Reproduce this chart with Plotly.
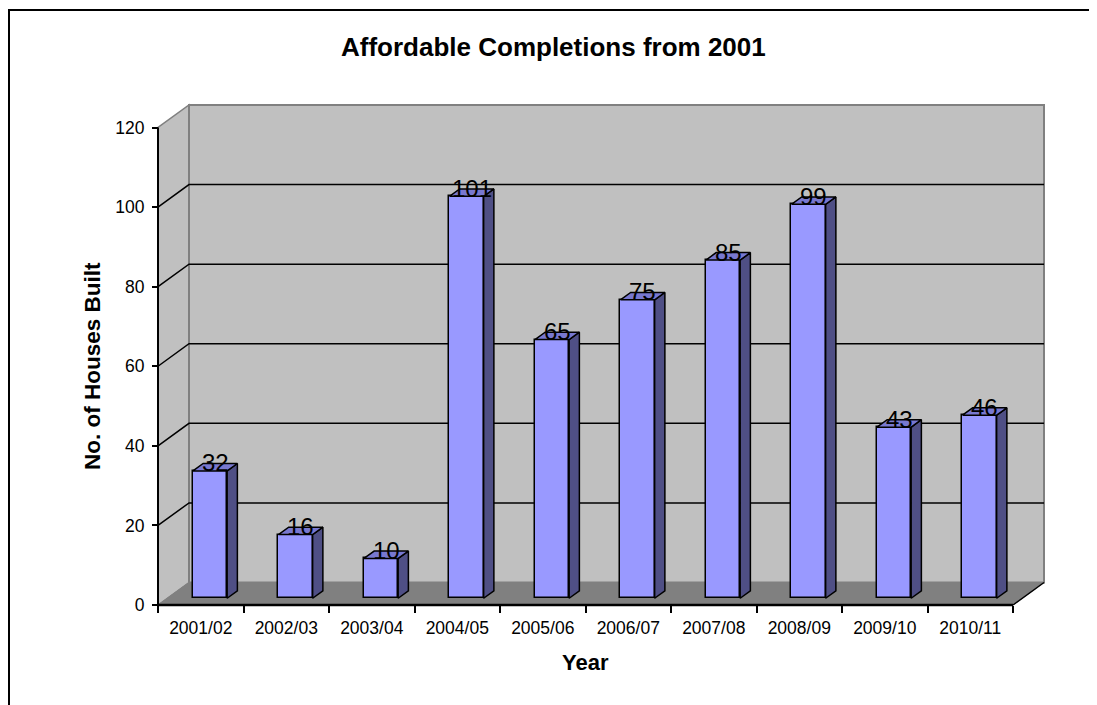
import plotly.graph_objects as go

# ---------------- data ----------------
years = ["2001/02", "2002/03", "2003/04", "2004/05", "2005/06",
         "2006/07", "2007/08", "2008/09", "2009/10", "2010/11"]
houses = [32, 16, 10, 101, 65, 75, 85, 99, 43, 46]
y_ticks = [0, 20, 40, 60, 80, 100, 120]
chart_title = "Affordable Completions from 2001"
x_title = "Year"
y_title = "No. of Houses Built"

# ---------------- styling / geometry (screen pixels) ----------------
VIEW_W, VIEW_H = 1097, 705
OFF = 8                                   # default page margin around the figure
W, H = VIEW_W, VIEW_H
PLOT_L, PLOT_R, PLOT_T, PLOT_B = 150, 1048, 101, 613   # plot area box (screen px)
X0_PX, Y0_PX = 158, 605                                # front axes origin (screen px)
PX_PER_CAT = 85.5
PX_PER_VAL = 477.5 / 120.0
DX = 31.0 / PX_PER_CAT       # depth offset in category units
DY = 22.5 / PX_PER_VAL       # depth offset in value units
F0, F1 = 0.30, 0.63          # bar depth (front / back fractions)
BW = 0.40                    # bar width (category units)
YMAX = y_ticks[-1]
n = len(years)
xmin, xmax = -0.5, n - 0.5

xr = [xmin - (X0_PX - PLOT_L) / PX_PER_CAT, xmin + (PLOT_R - X0_PX) / PX_PER_CAT]
yr = [-(PLOT_B - Y0_PX) / PX_PER_VAL, (Y0_PX - PLOT_T) / PX_PER_VAL]
pw, ph = PLOT_R - PLOT_L, PLOT_B - PLOT_T
posx = (X0_PX - PLOT_L) / pw
posy = (PLOT_B - Y0_PX) / ph


def px2paper_x(px):
    return (px - PLOT_L) / pw


def px2paper_y(py):
    return (PLOT_B - py) / ph


FONT = "Arial, 'Liberation Sans', sans-serif"
FRONT = "#9999FF"
SIDE = "#4F4F85"
TOP = "#7878D0"
WALL = "#C0C0C0"
FLOOR = "#808080"
EDGE = "#808080"

fig = go.Figure()

# ---- bar faces ----
side_x, side_y, top_x, top_y = [], [], [], []
cx = [i + F0 * DX for i in range(n)]
dd = (F1 - F0) * DX
for i, v in enumerate(houses):
    xl = cx[i] - BW / 2
    xrt = cx[i] + BW / 2
    yf = v + F0 * DY
    yb = v + F1 * DY
    side_x += [xrt, xrt, xrt + dd, xrt + dd, xrt, None]
    side_y += [yf, F0 * DY, F1 * DY, yb, yf, None]
    top_x += [xl, xrt, xrt + dd, xl + dd, xl, None]
    top_y += [yf, yf, yb, yb, yf, None]

fig.add_trace(go.Bar(
    x=cx, y=houses, base=[F0 * DY] * n, width=BW,
    marker=dict(color=FRONT, line=dict(color="black", width=1.5)),
    hoverinfo="skip", showlegend=False))
fig.add_trace(go.Scatter(
    x=side_x, y=side_y, mode="lines", fill="toself", fillcolor=SIDE,
    line=dict(color="black", width=1.5), hoverinfo="skip", showlegend=False))
fig.add_trace(go.Scatter(
    x=top_x, y=top_y, mode="lines", fill="toself", fillcolor=TOP,
    line=dict(color="black", width=1.5), hoverinfo="skip", showlegend=False))

shapes = []
# side wall
shapes.append(dict(type="path", xref="x", yref="y", layer="below",
                   path=f"M {xmin},0 L {xmin},{YMAX} L {xmin+DX},{YMAX+DY} L {xmin+DX},{DY} Z",
                   fillcolor=WALL, line=dict(color=EDGE, width=1.5)))
# back wall
shapes.append(dict(type="rect", xref="x", yref="y", layer="below",
                   x0=xmin + DX, x1=xmax + DX, y0=DY, y1=YMAX + DY,
                   fillcolor=WALL, line=dict(color=EDGE, width=2)))
# floor
shapes.append(dict(type="path", xref="x", yref="y", layer="below",
                   path=f"M {xmin},0 L {xmax},0 L {xmax+DX},{DY} L {xmin+DX},{DY} Z",
                   fillcolor=FLOOR, line=dict(color=EDGE, width=1)))
# gridlines
for v in y_ticks[1:-1]:
    shapes.append(dict(type="path", xref="x", yref="y", layer="below",
                       path=f"M {xmin},{v} L {xmin+DX},{v+DY} L {xmax+DX},{v+DY}",
                       line=dict(color="black", width=1.5)))
# floor right diagonal
shapes.append(dict(type="line", xref="x", yref="y", layer="below",
                   x0=xmax, y0=0, x1=xmax + DX, y1=DY,
                   line=dict(color="black", width=1.5)))
# front axis lines
shapes.append(dict(type="line", xref="x", yref="y", layer="below",
                   x0=xmin, y0=0, x1=xmax, y1=0, line=dict(color="black", width=2.5)))
shapes.append(dict(type="line", xref="x", yref="y", layer="below",
                   x0=xmin, y0=0, x1=xmin, y1=YMAX, line=dict(color="black", width=2)))
# outer frame
shapes.append(dict(type="rect", xref="paper", yref="paper",
                   x0=px2paper_x(OFF + 1), x1=px2paper_x(VIEW_W + 30),
                   y0=px2paper_y(VIEW_H + 30), y1=px2paper_y(10),
                   line=dict(color="black", width=2), fillcolor="rgba(0,0,0,0)"))

annotations = []
for i, v in enumerate(houses):
    annotations.append(dict(
        x=i + (F0 + F1) / 2 * DX, y=v + F0 * DY, xref="x", yref="y",
        text=str(v), showarrow=False, yanchor="middle", yshift=8,
        font=dict(family=FONT, size=24, color="black")))
annotations.append(dict(
    x=px2paper_x(553), y=px2paper_y(47), xref="paper", yref="paper",
    text=f"<b>{chart_title}</b>", showarrow=False, xanchor="center", yanchor="middle",
    font=dict(family=FONT, size=26, color="black")))
annotations.append(dict(
    x=px2paper_x(585), y=px2paper_y(662), xref="paper", yref="paper",
    text=f"<b>{x_title}</b>", showarrow=False, xanchor="center", yanchor="middle",
    font=dict(family=FONT, size=22, color="black")))
annotations.append(dict(
    x=px2paper_x(92), y=px2paper_y(366), xref="paper", yref="paper",
    text=f"<b>{y_title}</b>", showarrow=False, textangle=-90,
    xanchor="center", yanchor="middle",
    font=dict(family=FONT, size=22.5, color="black")))

fig.update_layout(
    width=W, height=H,
    margin=dict(l=PLOT_L - OFF, r=W - (PLOT_R - OFF), t=PLOT_T - OFF,
                b=H - (PLOT_B - OFF), pad=0),
    paper_bgcolor="white", plot_bgcolor="white",
    showlegend=False, bargap=0,
    shapes=shapes, annotations=annotations,
    xaxis=dict(range=xr, anchor="free", position=posy,
               tickmode="array", tickvals=list(range(n)), ticktext=years,
               ticks="", showline=False, showgrid=False, zeroline=False,
               ticklabelstandoff=10,
               tickfont=dict(family=FONT, size=17.5, color="black"),
               minor=dict(tickmode="array", tickvals=[k - 0.5 for k in range(n + 1)],
                          ticks="outside", ticklen=7, tickwidth=2, tickcolor="black",
                          showgrid=False),
               fixedrange=True),
    yaxis=dict(range=yr, anchor="free", position=posx,
               tickmode="array", tickvals=y_ticks,
               ticks="outside", ticklen=6, tickwidth=2, tickcolor="black",
               showline=False, showgrid=False, zeroline=False,
               ticklabelstandoff=4,
               tickfont=dict(family=FONT, size=17.5, color="black"),
               fixedrange=True),
)

fig.write_html("out.html")
